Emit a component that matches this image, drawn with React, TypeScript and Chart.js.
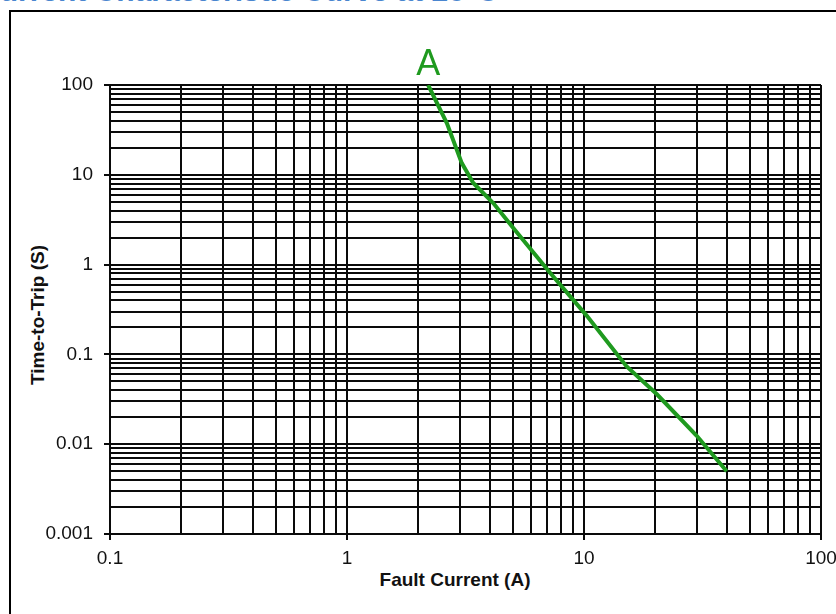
import React, { useEffect, useRef } from 'react';
import { Chart, registerables } from 'chart.js';

Chart.register(...registerables);

const chartTitle = 'Current Characteristic Curve at 25°C';
const xAxisTitle = 'Fault Current (A)';
const yAxisTitle = 'Time-to-Trip (S)';
const seriesLabel = 'A';

const faultCurrent = [2.2, 2.64, 3.05, 3.41, 4.14, 5.03, 7.19, 10.3, 15.1, 20.3, 29.9, 40];
const timeToTrip = [100, 37.5, 13.5, 8.1, 4.85, 2.56, 0.81, 0.267, 0.074, 0.036, 0.0124, 0.005];

const xDecades = [0.1, 1, 10, 100];
const xTickLabels = ['0.1', '1', '10', '100'];
const yDecades = [0.001, 0.01, 0.1, 1, 10, 100];
const yTickLabels = ['0.001', '0.01', '0.1', '1', '10', '100'];
const minorSteps = [1, 2, 3, 4, 5, 6, 7, 8, 9];

const GREEN = '#1f9a1f';
const FONT = '"Liberation Sans", Arial, Helvetica, sans-serif';

function buildTicks(decades: number[]) {
  const out: number[] = [];
  for (let i = 0; i < decades.length - 1; i++) {
    for (const m of minorSteps) out.push(decades[i] * m);
  }
  out.push(decades[decades.length - 1]);
  return out;
}

function isDecade(v: number) {
  const l = Math.log10(v);
  return Math.abs(l - Math.round(l)) < 1e-6;
}

function labelFor(v: number, decades: number[], labels: string[]) {
  if (!isDecade(v)) return '';
  const l = Math.round(Math.log10(v));
  const idx = decades.findIndex((d) => Math.round(Math.log10(d)) === l);
  return idx >= 0 ? labels[idx] : '';
}

const seriesLabelPlugin = {
  id: 'seriesLabelPlugin',
  afterDatasetsDraw(chart: any) {
    const meta = chart.getDatasetMeta(0);
    const pt = meta.data[0];
    if (!pt) return;
    const ctx = chart.ctx;
    ctx.save();
    ctx.font = `36px ${FONT}`;
    ctx.fillStyle = GREEN;
    ctx.textAlign = 'center';
    ctx.textBaseline = 'alphabetic';
    ctx.fillText(chart.data.datasets[0].label, pt.x, pt.y - 10);
    ctx.restore();
  },
};

export default function App() {
  const canvasRef = useRef<HTMLCanvasElement | null>(null);

  useEffect(() => {
    if (!canvasRef.current) return;
    const xTicks = buildTicks(xDecades);
    const yTicks = buildTicks(yDecades);
    const gridCommon = {
      color: '#0a0a0a',
      lineWidth: 2,
      tickLength: 6,
      tickWidth: 2,
      tickColor: (c: any) => (c.tick && isDecade(c.tick.value) ? '#0a0a0a' : 'rgba(0,0,0,0)'),
    };
    const chart = new Chart(canvasRef.current, {
      type: 'scatter',
      data: {
        datasets: [
          {
            label: seriesLabel,
            data: faultCurrent.map((x, i) => ({ x, y: timeToTrip[i] })),
            showLine: true,
            borderColor: GREEN,
            backgroundColor: GREEN,
            borderWidth: 4,
            pointRadius: 0,
            tension: 0,
          },
        ],
      },
      options: {
        animation: false,
        responsive: false,
        maintainAspectRatio: false,
        layout: { padding: { top: 85, right: 15, bottom: 0, left: 0 } },
        plugins: { legend: { display: false }, tooltip: { enabled: false }, title: { display: false } },
        scales: {
          x: {
            type: 'logarithmic',
            min: 0.1,
            max: 100,
            afterBuildTicks: (s: any) => {
              s.ticks = xTicks.map((v) => ({ value: v, major: isDecade(v) }));
            },
            afterFit: (s: any) => {
              s.height = 80;
              s.paddingLeft = 0;
              s.paddingRight = 0;
            },
            ticks: {
              autoSkip: false,
              maxRotation: 0,
              padding: 7,
              color: '#111',
              font: { family: FONT, size: 19 },
              callback: (v: any) => labelFor(Number(v), xDecades, xTickLabels),
            },
            grid: gridCommon,
            border: { display: true, color: '#0a0a0a', width: 2 },
          },
          y: {
            type: 'logarithmic',
            min: 0.001,
            max: 100,
            afterBuildTicks: (s: any) => {
              s.ticks = yTicks.map((v) => ({ value: v, major: isDecade(v) }));
            },
            afterFit: (s: any) => {
              s.width = 110;
            },
            ticks: {
              autoSkip: false,
              padding: 11,
              color: '#111',
              font: { family: FONT, size: 19 },
              callback: (v: any) => labelFor(Number(v), yDecades, yTickLabels),
            },
            grid: gridCommon,
            border: { display: true, color: '#0a0a0a', width: 2 },
          },
        },
      },
      plugins: [seriesLabelPlugin],
    } as any);
    return () => chart.destroy();
  }, []);

  return (
    <div
      style={{
        position: 'fixed',
        left: 0,
        top: 0,
        width: 836,
        height: 614,
        overflow: 'hidden',
        background: '#fff',
        fontFamily: FONT,
      }}
    >
      <div
        style={{
          position: 'absolute',
          left: -22,
          top: -24,
          fontSize: 30,
          lineHeight: '30px',
          fontWeight: 'bold',
          color: '#4a86cf',
          whiteSpace: 'nowrap',
        }}
      >
        {chartTitle}
      </div>
      <div
        style={{
          position: 'absolute',
          left: 9,
          top: 10,
          width: 900,
          height: 700,
          border: '2px solid #000',
          boxSizing: 'border-box',
        }}
      />
      <div
        style={{
          position: 'absolute',
          left: 37,
          top: 315,
          transform: 'translate(-50%, -50%) rotate(-90deg)',
          fontSize: 19,
          lineHeight: '19px',
          fontWeight: 'bold',
          color: '#111',
          whiteSpace: 'nowrap',
        }}
      >
        {yAxisTitle}
      </div>
      <div
        style={{
          position: 'absolute',
          left: 455,
          top: 579,
          transform: 'translate(-50%, -50%)',
          fontSize: 19,
          lineHeight: '19px',
          fontWeight: 'bold',
          color: '#111',
          whiteSpace: 'nowrap',
        }}
      >
        {xAxisTitle}
      </div>
      <canvas
        ref={canvasRef}
        width={836}
        height={614}
        style={{ position: 'absolute', left: 0, top: 0, width: 836, height: 614 }}
      />
    </div>
  );
}
